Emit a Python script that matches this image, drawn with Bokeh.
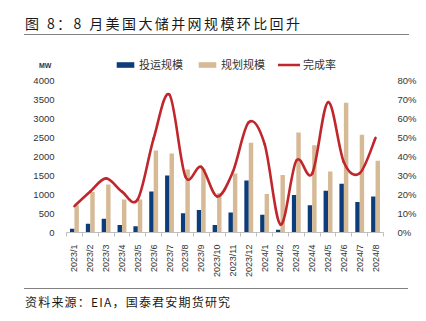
import numpy as np
from bokeh.plotting import figure
from bokeh.layouts import column
from bokeh.models import (Range1d, LinearAxis, FixedTicker, PrintfTickFormatter,
                          Legend, LegendItem, Div)
from bokeh.embed import file_html
from bokeh.resources import INLINE

months = ["2023/1", "2023/2", "2023/3", "2023/4", "2023/5", "2023/6", "2023/7",
          "2023/8", "2023/9", "2023/10", "2023/11", "2023/12", "2024/1", "2024/2",
          "2024/3", "2024/4", "2024/5", "2024/6", "2024/7", "2024/8"]
operated = [100, 230, 365, 200, 165, 1080, 1500, 505, 590, 200, 525, 1370,
            465, 70, 985, 715, 1100, 1285, 805, 945]
planned = [720, 1065, 1265, 870, 870, 2155, 2080, 1660, 1685, 1030, 1555, 2365,
           1015, 1510, 2630, 2295, 1605, 3415, 2575, 1885]
rate = [13.9, 21.6, 28.5, 21.5, 17.5, 49.5, 72.5, 29.5, 34.5, 19.0, 32.0, 58.0,
        46.5, 4.2, 37.8, 31.0, 68.6, 37.0, 31.2, 49.8]
left_ticks = [0, 500, 1000, 1500, 2000, 2500, 3000, 3500, 4000]
right_ticks = [0, 10, 20, 30, 40, 50, 60, 70, 80]

title_text = "图 8：8 月美国大储并网规模环比回升"
source_text = "资料来源：EIA，国泰君安期货研究"

DARK = "#0d3c7a"
TAN = "#d6ba96"
RED = "#c0272d"
TXT = "#333333"
CJK = "Noto Sans CJK SC"
LAT = "Liberation Sans"

n = len(months)
x = np.arange(n, dtype=float)
head = 176.0 / 152.0   # frame extends above the top tick to hold the legend

p = figure(width=426, height=240, output_backend="svg", toolbar_location=None,
           x_range=Range1d(-0.5, n - 0.5),
           y_range=Range1d(0, left_ticks[-1] * head),
           min_border_left=66, min_border_right=43, min_border_top=16,
           min_border_bottom=48, y_axis_location=None, margin=0)
p.outline_line_color = None
p.xgrid.visible = False
p.ygrid.visible = False
p.extra_y_ranges = {"pct": Range1d(0, right_ticks[-1] * head)}

bw = 0.28
r_op = p.vbar(x=x - 0.14, top=operated, width=bw, fill_color=DARK, line_color=None)
r_pl = p.vbar(x=x + 0.14, top=planned, width=bw, fill_color=TAN, line_color=None)

# smoothed (Catmull-Rom) line through the rate points
ry = np.array(rate, dtype=float)
px = np.concatenate([[x[0]], x, [x[-1]]])
py = np.concatenate([[ry[0]], ry, [ry[-1]]])
x0 = px[1:-2]; y0 = py[1:-2]
x1 = px[2:-1]; y1 = py[2:-1]
cx0 = x0 + (px[2:-1] - px[0:-3]) / 6.0
cy0 = y0 + (py[2:-1] - py[0:-3]) / 6.0
cx1 = x1 - (px[3:] - px[1:-2]) / 6.0
cy1 = y1 - (py[3:] - py[1:-2]) / 6.0
r_rate = p.bezier(x0=x0, y0=y0, x1=x1, y1=y1, cx0=cx0, cy0=cy0, cx1=cx1, cy1=cy1,
                  line_color=RED, line_width=2.6, line_cap="round", y_range_name="pct")

left = LinearAxis(ticker=FixedTicker(ticks=left_ticks, minor_ticks=[]))
right = LinearAxis(y_range_name="pct", ticker=FixedTicker(ticks=right_ticks, minor_ticks=[]),
                   formatter=PrintfTickFormatter(format="%d%%"))
for ax in (left, right):
    ax.axis_line_color = None
    ax.major_tick_line_color = None
    ax.minor_tick_line_color = None
    ax.major_label_text_font = LAT
    ax.major_label_text_font_size = "9.5px"
    ax.major_label_text_color = TXT
left.major_label_standoff = 6
right.major_label_standoff = 8
p.add_layout(left, "left")
p.add_layout(right, "right")

xa = p.xaxis[0]
xa.ticker = FixedTicker(ticks=list(x), minor_ticks=[i - 0.5 for i in range(n + 1)])
xa.major_label_overrides = {i: m for i, m in enumerate(months)}
xa.major_label_orientation = np.pi / 2
xa.major_label_text_font = LAT
xa.major_label_text_font_size = "9px"
xa.major_label_text_color = TXT
xa.major_label_standoff = 6
xa.axis_line_color = "#bfbfbf"
xa.axis_line_width = 1.2
xa.major_tick_line_color = None
xa.minor_tick_line_color = "#bfbfbf"
xa.minor_tick_in = 0
xa.minor_tick_out = 4

legend = Legend(items=[LegendItem(label="投运规模", renderers=[r_op]),
                       LegendItem(label="规划规模", renderers=[r_pl]),
                       LegendItem(label="完成率", renderers=[r_rate])],
                orientation="horizontal", location=(48, 160),
                glyph_width=22, glyph_height=7, label_standoff=3, spacing=13,
                padding=0, margin=0, border_line_color=None,
                background_fill_alpha=0, label_text_font=CJK,
                label_text_font_size="11px", label_text_color=TXT)
p.add_layout(legend, "center")

title_div = Div(width=426, height=40, margin=0, text=(
    '<div style="position:relative;width:426px;height:40px;">'
    '<div style="position:absolute;left:24px;top:13px;width:384px;height:21px;'
    'border-bottom:1.5px solid #808080;font-family:\'Noto Sans CJK SC\';'
    'font-size:14px;line-height:20px;letter-spacing:2.4px;color:#1a1a1a;'
    'white-space:nowrap;padding-left:1px;box-sizing:content-box;">'
    + title_text + '</div>'
    '<div style="position:absolute;left:39px;top:61px;z-index:50;'
    'font-family:\'Liberation Sans\';font-weight:bold;font-size:7px;'
    'line-height:9px;color:#333333;">MW</div>'
    '</div>'))
src_div = Div(width=426, height=41, margin=0, text=(
    '<div style="position:relative;width:426px;height:41px;">'
    '<div style="position:absolute;left:24px;top:8px;width:384px;'
    'border-top:1.5px solid #808080;padding-top:5px;padding-left:1px;'
    'font-family:\'Noto Sans CJK SC\';font-size:12px;line-height:16px;'
    'letter-spacing:1.2px;color:#1a1a1a;white-space:nowrap;">'
    + source_text + '</div></div>'))

layout = column(title_div, p, src_div, spacing=0, margin=0)
open("out.html", "w").write(file_html(layout, INLINE))
